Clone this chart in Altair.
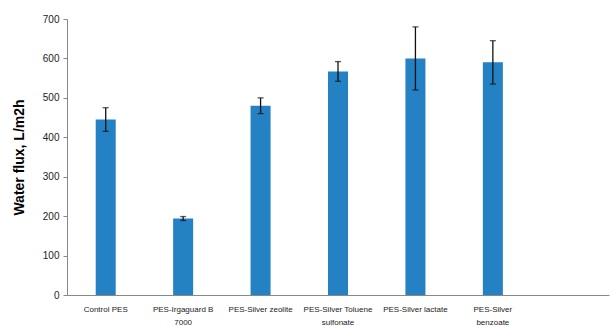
import altair as alt
import pandas as pd

categories = ["Control PES", "PES-Irgaguard B|7000", "PES-Silver zeolite",
              "PES-Silver Toluene|sulfonate", "PES-Silver lactate", "PES-Silver|benzoate"]
flux = [445, 194, 480, 567, 600, 590]
err = [30, 5, 20, 25, 80, 55]
y_ticks = [0, 100, 200, 300, 400, 500, 600, 700]
domain = categories + [" "]

df = pd.DataFrame({"cat": categories, "flux": flux, "err": err})
df["lo"] = df["flux"] - df["err"]
df["hi"] = df["flux"] + df["err"]

yaxis = alt.Axis(title="Water flux, L/m2h", titleFontSize=14, titleFont="Liberation Sans",
                 titleFontWeight="bold", titleColor="#000", titlePadding=16,
                 values=y_ticks, tickCount=8, grid=False, labelFontSize=10,
                 labelFont="Liberation Sans", labelColor="#222", tickSize=4,
                 tickColor="#888", domainColor="#888", labelPadding=4,
                 labelOverlap=False, labelBound=False, labelFlush=False)
yscale = alt.Scale(domain=[0, 700], nice=False)

x = alt.X("cat:N", sort=domain, scale=alt.Scale(domain=domain, paddingInner=0, paddingOuter=0),
          axis=alt.Axis(title=None, labelAngle=0, labelExpr="split(datum.label, '|')",
                        labelFontSize=8, labelFont="Liberation Sans", labelColor="#222",
                        labelPadding=10, labelLineHeight=13, ticks=False, domainColor="#888",
                        labelBaseline="top", labelOverlap=False))

def yenc(field):
    return alt.Y(field + ":Q", scale=yscale, axis=yaxis)

base = alt.Chart(df)
bars = base.mark_bar(size=20, color="#2381c4").encode(x=x, y=yenc("flux"))
rules = base.mark_rule(color="#111", strokeWidth=1.3).encode(
    x=x, y=yenc("lo"), y2="hi:Q")
cap_hi = base.mark_tick(color="#111", thickness=1.3, size=6, orient="horizontal").encode(
    x=x, y=yenc("hi"))
cap_lo = base.mark_tick(color="#111", thickness=1.3, size=6, orient="horizontal").encode(
    x=x, y=yenc("lo"))

chart = alt.layer(bars, rules, cap_hi, cap_lo).properties(
    width=542, height=276,
    autosize=alt.AutoSizeParams(type="none"),
    padding={"left": 67, "top": 19, "right": 1, "bottom": 31},
    background="white"
).configure_view(stroke=None)

chart.save("out.html", embed_options={"renderer": "svg", "actions": False})
